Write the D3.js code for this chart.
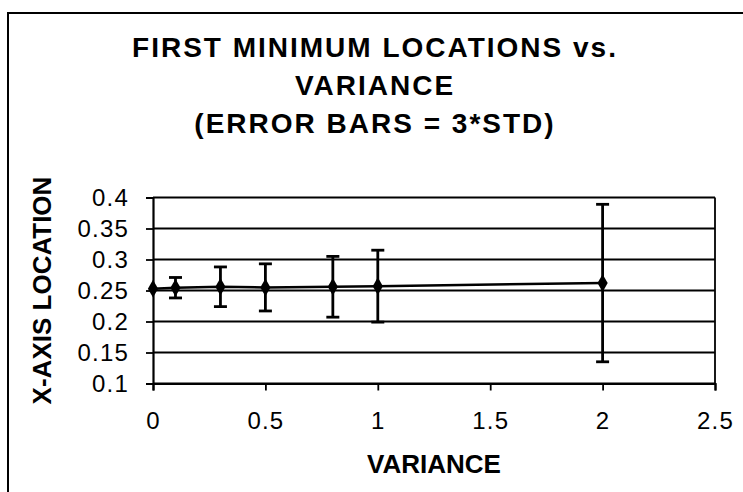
<!DOCTYPE html>
<html>
<head>
<meta charset="utf-8">
<script src="https://cdnjs.cloudflare.com/ajax/libs/d3/7.8.5/d3.min.js"></script>
<style>
  body { margin: 0; background: #fff; }
  svg { display: block; }
  text { font-family: "Liberation Sans", Arial, Helvetica, sans-serif; fill: #000; }
</style>
</head>
<body>
<div id="chart"></div>
<script>
// data
var variance = [0, 0.1, 0.3, 0.5, 0.8, 1, 2];
var minLocation = [0.253, 0.2545, 0.256, 0.255, 0.256, 0.257, 0.262];
var errHalf  = [0, 0.0165, 0.032, 0.038, 0.049, 0.058, 0.127];   // 3*std, half length
var xTicks = [0, 0.5, 1, 1.5, 2, 2.5];
var yTicks = [0.1, 0.15, 0.2, 0.25, 0.3, 0.35, 0.4];
var titleLines = ["FIRST MINIMUM LOCATIONS vs.", "VARIANCE", "(ERROR BARS = 3*STD)"];

var width = 743, height = 492;
var svg = d3.select("#chart").append("svg")
    .attr("width", width)
    .attr("height", height);

// outer frame (only left and top edges show in the picture)
svg.append("rect")
    .attr("x", 8).attr("y", 13)
    .attr("width", 900).attr("height", 700)
    .attr("fill", "none")
    .attr("stroke", "#000")
    .attr("stroke-width", 2);

var x = d3.scaleLinear().domain([0, 2.5]).range([153, 715]);
var y = d3.scaleLinear().domain([0.1, 0.4]).range([383.5, 197.5]);

// title
svg.append("g").selectAll("text")
    .data(titleLines).enter().append("text")
    .attr("x", 375)
    .attr("y", function(d, i) { return 57 + i * 38; })
    .attr("text-anchor", "middle")
    .attr("font-size", 28)
    .attr("font-weight", "bold")
    .attr("letter-spacing", 2)
    .text(function(d) { return d; });

// horizontal grid lines
svg.append("g").selectAll("line")
    .data(yTicks).enter().append("line")
    .attr("x1", x(0)).attr("x2", x(2.5))
    .attr("y1", function(d) { return y(d); })
    .attr("y2", function(d) { return y(d); })
    .attr("stroke", "#000")
    .attr("stroke-width", 2);

// right edge of plot area
svg.append("line")
    .attr("x1", x(2.5)).attr("x2", x(2.5))
    .attr("y1", y(0.4)).attr("y2", y(0.1))
    .attr("stroke", "#000").attr("stroke-width", 1.8);

// axes
var yAxis = svg.append("g")
    .attr("transform", "translate(" + x(0) + ",0)")
    .call(d3.axisLeft(y).tickValues(yTicks).tickSize(7).tickPadding(17).tickFormat(d3.format("~g")));
var xAxis = svg.append("g")
    .attr("transform", "translate(0," + y(0.1) + ")")
    .call(d3.axisBottom(x).tickValues(xTicks).tickSize(7).tickPadding(21).tickFormat(d3.format("~g")));

[yAxis, xAxis].forEach(function(ax) {
  ax.select(".domain").attr("stroke", "#000").attr("stroke-width", 2.2);
  ax.selectAll(".tick line").attr("stroke", "#000").attr("stroke-width", 1.8);
  ax.selectAll(".tick text")
    .attr("font-size", 24)
    .attr("letter-spacing", 1.2)
    .attr("font-family", "Liberation Sans, Arial, sans-serif")
    .attr("fill", "#000");
});

// axis titles
svg.append("text")
    .attr("x", (x(0) + x(2.5)) / 2)
    .attr("y", 473)
    .attr("text-anchor", "middle")
    .attr("font-size", 26)
    .attr("font-weight", "bold")
    .text("VARIANCE");

svg.append("text")
    .attr("transform", "translate(51," + ((y(0.1) + y(0.4)) / 2) + ") rotate(-90)")
    .attr("text-anchor", "middle")
    .attr("font-size", 26)
    .attr("font-weight", "bold")
    .text("X-AXIS LOCATION");

var pts = variance.map(function(v, i) {
  return { v: v, loc: minLocation[i], e: errHalf[i] };
});

// series line
svg.append("path")
    .datum(pts)
    .attr("fill", "none")
    .attr("stroke", "#000")
    .attr("stroke-width", 2.5)
    .attr("d", d3.line()
      .x(function(d) { return x(d.v); })
      .y(function(d) { return y(d.loc); }));

// error bars
var eb = svg.append("g").selectAll("g")
    .data(pts.filter(function(d) { return d.e > 0; }))
    .enter().append("g")
    .attr("stroke", "#000");
eb.append("line")
    .attr("x1", function(d) { return x(d.v); })
    .attr("x2", function(d) { return x(d.v); })
    .attr("y1", function(d) { return y(d.loc - d.e); })
    .attr("y2", function(d) { return y(d.loc + d.e); })
    .attr("stroke-width", 2.8);
eb.append("line")
    .attr("x1", function(d) { return x(d.v) - 6.5; })
    .attr("x2", function(d) { return x(d.v) + 6.5; })
    .attr("y1", function(d) { return y(d.loc + d.e); })
    .attr("y2", function(d) { return y(d.loc + d.e); })
    .attr("stroke-width", 2.8);
eb.append("line")
    .attr("x1", function(d) { return x(d.v) - 6.5; })
    .attr("x2", function(d) { return x(d.v) + 6.5; })
    .attr("y1", function(d) { return y(d.loc - d.e); })
    .attr("y2", function(d) { return y(d.loc - d.e); })
    .attr("stroke-width", 2.8);

// diamond markers
svg.append("g").selectAll("path")
    .data(pts).enter().append("path")
    .attr("transform", function(d) { return "translate(" + x(d.v) + "," + y(d.loc) + ")"; })
    .attr("d", d3.symbol().type(d3.symbolDiamond).size(90))
    .attr("fill", "#000");
</script>
</body>
</html>
